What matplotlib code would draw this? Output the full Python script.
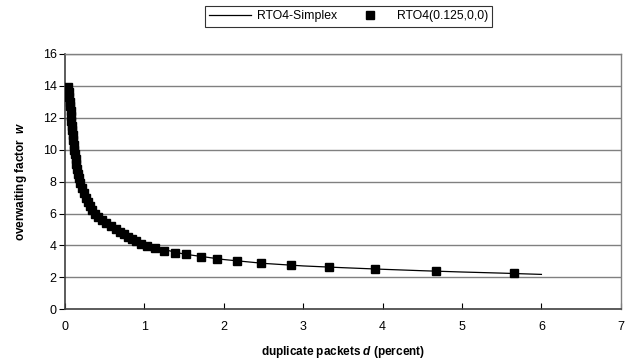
import matplotlib
matplotlib.use("Agg")
import matplotlib.pyplot as plt

plt.rcParams['font.family'] = ['Liberation Sans', 'DejaVu Sans']
plt.rcParams['mathtext.fontset'] = 'custom'
plt.rcParams['mathtext.rm'] = 'Liberation Sans:bold'
plt.rcParams['mathtext.it'] = 'Liberation Sans:italic:bold'
plt.rcParams['mathtext.bf'] = 'Liberation Sans:bold'

# RTO4-Simplex line
line_d = [0.04, 0.06, 0.08, 0.10, 0.15, 0.20, 0.30, 0.40, 0.60, 0.80, 1.00,
          1.50, 2.00, 2.50, 3.00, 3.50, 4.00, 4.50, 5.00, 5.50, 6.00]
line_w = [13.9, 13.0, 11.9, 10.8, 9.0, 7.8, 6.6, 5.9, 5.1, 4.5, 4.02,
          3.46, 3.12, 2.88, 2.72, 2.61, 2.51, 2.42, 2.34, 2.27, 2.19]

# RTO4(0.125,0,0) markers
mark_d = [0.040, 0.047, 0.053, 0.060, 0.065, 0.071, 0.076, 0.081, 0.086, 0.091,
          0.097, 0.103, 0.109, 0.115, 0.124, 0.133, 0.142, 0.153, 0.165, 0.177,
          0.192, 0.212, 0.235, 0.260, 0.285, 0.315, 0.345, 0.380, 0.42, 0.47,
          0.52, 0.58, 0.64, 0.69, 0.74, 0.79, 0.84, 0.90, 0.96,
          1.035, 1.14, 1.25, 1.38, 1.53, 1.71, 1.92, 2.17, 2.47, 2.85,
          3.32, 3.91, 4.67, 5.65]
mark_w = [13.9, 13.6, 13.3, 13.0, 12.7, 12.4, 12.1, 11.8, 11.5, 11.2,
          10.9, 10.6, 10.3, 10.0, 9.7, 9.4, 9.1, 8.8, 8.5, 8.2,
          7.9, 7.6, 7.3, 7.0, 6.75, 6.5, 6.25, 6.0, 5.8, 5.6,
          5.4, 5.2, 5.0, 4.85, 4.7, 4.55, 4.4, 4.25, 4.1,
          3.96, 3.82, 3.68, 3.56, 3.44, 3.28, 3.15, 3.04, 2.93, 2.80,
          2.68, 2.53, 2.40, 2.28]

x_ticks = [0, 1, 2, 3, 4, 5, 6, 7]
y_ticks = [0, 2, 4, 6, 8, 10, 12, 14, 16]

fig = plt.figure(figsize=(6.29, 3.64), dpi=100)
ax = fig.add_axes([0.1033, 0.150, 0.8837, 0.7025])

for y in y_ticks[1:]:
    ax.axhline(y, color='#808080', lw=1.0, zorder=0)

ax.plot(line_d, line_w, color='black', lw=0.9, label='RTO4-Simplex', zorder=2)
ax.plot(mark_d, mark_w, linestyle='none', marker='s', ms=5.4, color='black',
        label='RTO4(0.125,0,0)', zorder=3)

ax.set_xlim(0, 7)
ax.set_ylim(0, 16)
ax.set_xticks(x_ticks)
ax.set_yticks(y_ticks)
ax.tick_params(axis='x', direction='in', length=4, labelsize=9, pad=8)
ax.tick_params(axis='y', direction='out', length=4, labelsize=9, pad=2)

for s in ['left', 'bottom']:
    ax.spines[s].set_color('#404040')
    ax.spines[s].set_linewidth(1.2)
for s in ['right', 'top']:
    ax.spines[s].set_color('#808080')
    ax.spines[s].set_linewidth(1.0)

ax.set_xlabel(r'duplicate packets $d$ (percent)', fontsize=8.5, fontweight='bold', labelpad=8)
ax.set_ylabel(r'overwaiting factor  $w$', fontsize=8.5, fontweight='bold', labelpad=10)

leg = fig.legend(loc='upper left', bbox_to_anchor=(205 / 629, 1 - 6 / 364), ncol=2,
                 frameon=True, fancybox=False, edgecolor='black', fontsize=8.8,
                 handlelength=3.4, handletextpad=0.5, columnspacing=1.0,
                 borderpad=0.35, borderaxespad=0)
leg.get_frame().set_linewidth(0.8)

fig.savefig('out.png', dpi=100)
